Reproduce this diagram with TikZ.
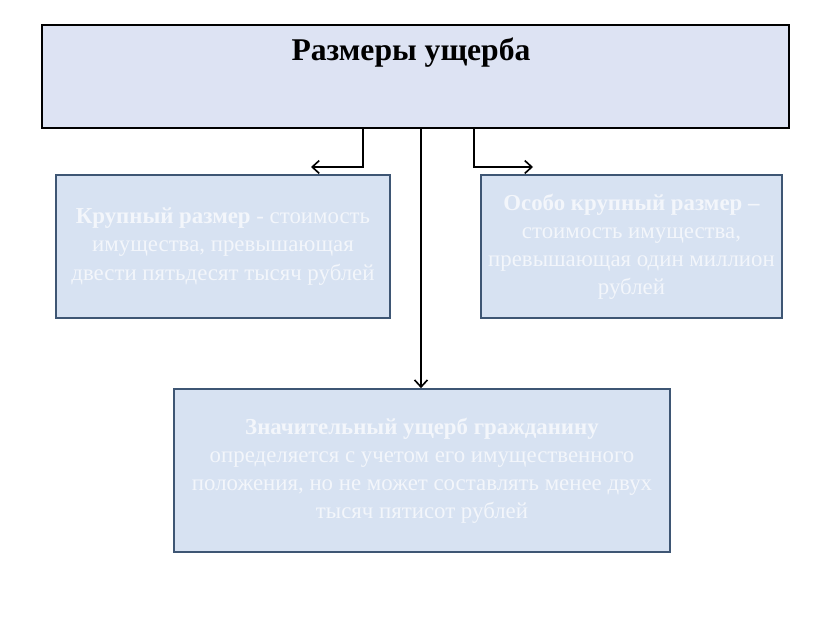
\documentclass[tikz,border=0pt]{standalone}
\usepackage{fontspec}
\setmainfont{Liberation Serif}
\usepackage{tikz}
\usetikzlibrary{arrows.meta, positioning, calc}
\definecolor{headfill}{HTML}{DDE3F3}
\definecolor{itemfill}{HTML}{D7E2F2}
\definecolor{itemdraw}{HTML}{3E5674}
\definecolor{itemtext}{HTML}{F3F6FB}
\tikzset{
  headbox/.style={draw=black, fill=headfill, line width=2.2pt, minimum width=747*0.03cm, minimum height=103*0.03cm},
  itembox/.style={draw=itemdraw, fill=itemfill, line width=1.4pt, text=itemtext, align=center, inner sep=0pt,
    font=\fontsize{19.5}{24}\selectfont},
  link/.style={draw=black, line width=1.8pt, -{Straight Barb[length=6pt, width=11pt, line width=1.4pt]}}
}
\begin{document}
\begin{tikzpicture}[x=0.03cm, y=-0.03cm]
  \useasboundingbox (0,0) rectangle (831,623);
  % header
  \node[headbox] (damage) at (415.5,76.5) {};
  \node[font=\fontsize{27}{30}\selectfont\bfseries, anchor=center] (damagetitle) at (411,53) {Размеры ущерба};

  % three kinds of damage
  \node[itembox, minimum width=334*0.03cm, minimum height=143*0.03cm] (large) at (223,246.5)
    {\textbf{Крупный размер} - стоимость\\ имущества, превышающая\\ двести пятьдесят тысяч рублей};
  \node[itembox, minimum width=301*0.03cm, minimum height=143*0.03cm] (xlarge) at (631.5,246.5)
    {\textbf{Особо крупный размер –}\\ стоимость имущества,\\ превышающая один миллион\\ рублей};
  \node[itembox, minimum width=496*0.03cm, minimum height=163*0.03cm] (citizen) at (422,470.5)
    {\textbf{Значительный ущерб гражданину}\\ определяется с учетом его имущественного\\ положения, но не может составлять менее двух\\ тысяч пятисот рублей};

  % connectors
  \coordinate (leftend) at (311,167);
  \coordinate (rightend) at (533,167);
  \draw[link] (damage.south -| 363,0) |- (leftend);
  \draw[link] (damage.south -| 474,0) |- (rightend);
  \draw[link] (damage.south -| 421,0) -- (citizen.north -| 421,0);
\end{tikzpicture}
\end{document}
